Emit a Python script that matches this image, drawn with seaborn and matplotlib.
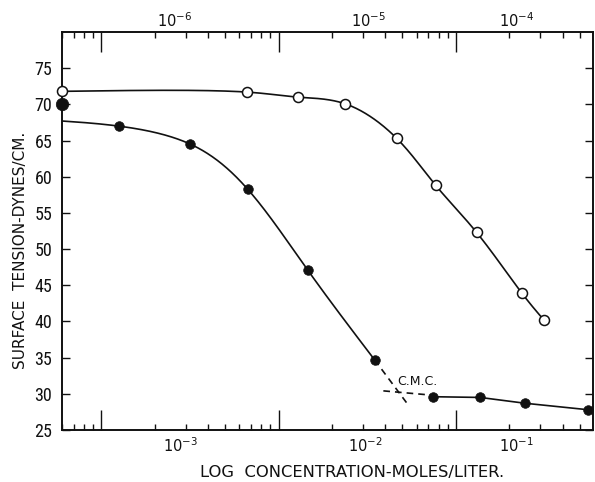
import numpy as np
import matplotlib
matplotlib.use("Agg")
import matplotlib.pyplot as plt
import seaborn as sns
from matplotlib import font_manager
from matplotlib.ticker import LogLocator, NullFormatter
from matplotlib.transforms import blended_transform_factory

# ---- data -------------------------------------------------------------
# lower scale (moles/liter)
bottom_limits = (6.0e-4, 0.594)
bottom_label_pos = [2.8e-3, 3.1e-2, 0.22]
bottom_label_txt = [r"$10^{-3}$", r"$10^{-2}$", r"$10^{-1}$"]

# upper scale (moles/liter)
top_limits = (6.0e-7, 5.94e-4)
top_label_pos = [2.6e-6, 3.2e-5, 2.2e-4]
top_label_txt = [r"$10^{-6}$", r"$10^{-5}$", r"$10^{-4}$"]

# open circles, read against the upper scale
open_conc = [6.0e-7, 6.6e-6, 1.28e-5, 2.36e-5, 4.64e-5, 7.7e-5, 1.31e-4, 2.36e-4, 3.14e-4]
open_tension = [71.8, 71.7, 71.0, 70.1, 65.3, 58.8, 52.3, 43.9, 40.2]

# filled circles, read against the lower scale
filled_conc = [1.25e-3, 3.18e-3, 6.68e-3, 1.46e-2, 3.48e-2, 7.41e-2, 0.137, 0.245, 0.557]
filled_tension = [67.0, 64.5, 58.3, 47.1, 34.7, 29.6, 29.5, 28.7, 27.8]
n_steep = 5                      # points on the falling branch (before the C.M.C.)
solvent_tension = 70.0           # pure solvent, marked on the left edge
filled_curve_start = 67.7        # where the fitted curve leaves the left edge

# extent of the dashed extrapolations meeting at the C.M.C.
steep_dash_end = 0.053
flat_dash_start = 0.039
cmc_label_pos = (0.0605, 31.7)

yticks = [25, 30, 35, 40, 45, 50, 55, 60, 65, 70, 75]
y_limits = (25, 80)

# drawing scale used for curve smoothing: units per decade / per dyne
X_UNIT, Y_UNIT = 177.0, 7.24


# ---- helpers ----------------------------------------------------------
def _natural(t, v, tq):
    n = len(t)
    h = np.diff(t)
    A = np.zeros((n, n))
    r = np.zeros(n)
    A[0, 0] = A[-1, -1] = 1.0
    for i in range(1, n - 1):
        A[i, i - 1] = h[i - 1]
        A[i, i] = 2 * (h[i - 1] + h[i])
        A[i, i + 1] = h[i]
        r[i] = 6 * ((v[i + 1] - v[i]) / h[i] - (v[i] - v[i - 1]) / h[i - 1])
    M = np.linalg.solve(A, r)
    i = np.clip(np.searchsorted(t, tq) - 1, 0, n - 2)
    a = (t[i + 1] - tq) / h[i]
    b = (tq - t[i]) / h[i]
    return a * v[i] + b * v[i + 1] + ((a**3 - a) * M[i] + (b**3 - b) * M[i + 1]) * h[i] ** 2 / 6


def smooth_curve(x, y, n=500):
    """Parametric natural cubic spline (a draftsman's spline) through the
    points, built in log-x drawing units with centripetal parameterisation."""
    px = np.log10(np.asarray(x, float)) * X_UNIT
    py = np.asarray(y, float) * Y_UNIT
    seg = np.hypot(np.diff(px), np.diff(py)) ** 0.5
    t = np.concatenate([[0.0], np.cumsum(seg)])
    tq = np.linspace(0, t[-1], n)
    return 10 ** (_natural(t, px, tq) / X_UNIT), _natural(t, py, tq) / Y_UNIT


def loglin_fit(x, y):
    return np.polyfit(np.log10(x), y, 1)


def pick_font(cands, default="DejaVu Sans"):
    names = {f.name for f in font_manager.fontManager.ttflist}
    for c in cands:
        if c in names:
            return c
    return default


# ---- style ------------------------------------------------------------
sns.set_style("ticks")
plt.rcParams["font.family"] = ["DejaVu Sans"]
plt.rcParams["mathtext.fontset"] = "dejavusans"
plt.rcParams["axes.linewidth"] = 1.2
narrow = pick_font(["Liberation Sans Narrow", "DejaVu Sans Condensed", "Roboto Condensed"])

fig = plt.figure(figsize=(5.95, 4.82), dpi=100)
fig.patch.set_facecolor("white")
ax = fig.add_axes([62 / 595, 1 - 430 / 482, (593 - 62) / 595, (430 - 32) / 482])
ax.set_xscale("log")
ax.set_xlim(*bottom_limits)
ax.set_ylim(*y_limits)

ax_top = ax.twiny()
ax_top.set_xscale("log")
ax_top.set_xlim(*top_limits)

ink = "#111111"
lw = 1.2

# ---- filled-circle series (lower scale) -------------------------------
steep_x = [bottom_limits[0]] + filled_conc[:n_steep]
steep_y = [filled_curve_start] + filled_tension[:n_steep]
cx, cy = smooth_curve(steep_x, steep_y)
sns.lineplot(x=cx, y=cy, ax=ax, color=ink, lw=lw, sort=False, estimator=None)

flat_x = filled_conc[n_steep:]
flat_y = filled_tension[n_steep:]
sns.lineplot(x=flat_x, y=flat_y, ax=ax, color=ink, lw=lw, sort=False, estimator=None)

# dashed extrapolations crossing at the C.M.C.
p_steep = loglin_fit(filled_conc[n_steep - 2:n_steep], filled_tension[n_steep - 2:n_steep])
sx = np.array([filled_conc[n_steep - 1], steep_dash_end])
sns.lineplot(x=sx, y=np.polyval(p_steep, np.log10(sx)), ax=ax, color=ink, lw=lw,
             linestyle=(0, (4, 3)), sort=False, estimator=None)
p_flat = loglin_fit(flat_x, flat_y)
fx = np.array([flat_dash_start, flat_x[0]])
sns.lineplot(x=fx, y=np.polyval(p_flat, np.log10(fx)), ax=ax, color=ink, lw=lw,
             linestyle=(0, (4, 3)), sort=False, estimator=None)

sns.scatterplot(x=filled_conc, y=filled_tension, ax=ax, color=ink, s=48,
                edgecolor=ink, linewidth=0.5, zorder=4)
sns.scatterplot(x=[bottom_limits[0]], y=[solvent_tension], ax=ax, color=ink, s=80,
                marker="o", edgecolor=ink, linewidth=0.5, zorder=5, clip_on=False)

ax.text(*cmc_label_pos, "C.M.C.", ha="center", va="center", fontsize=9, color=ink)

# ---- open-circle series (upper scale) ---------------------------------
ox, oy = smooth_curve(open_conc, open_tension)
sns.lineplot(x=ox, y=oy, ax=ax_top, color=ink, lw=lw, sort=False, estimator=None)
sns.scatterplot(x=open_conc, y=open_tension, ax=ax_top, color="white", s=52,
                edgecolor=ink, linewidth=1.1, zorder=4, clip_on=False)

# ---- ticks --------------------------------------------------------------
for a in (ax, ax_top):
    a.xaxis.set_major_locator(LogLocator(base=10, numticks=12))
    a.xaxis.set_minor_locator(LogLocator(base=10, subs=np.arange(2, 10), numticks=30))
    a.xaxis.set_major_formatter(NullFormatter())
    a.xaxis.set_minor_formatter(NullFormatter())
    a.set_xlabel("")
    a.set_ylabel("")

ax.tick_params(axis="x", which="major", direction="in", length=14.5, width=1.0,
               bottom=True, top=False, color=ink)
ax.tick_params(axis="x", which="minor", direction="in", length=4.5, width=1.0,
               bottom=True, top=False, color=ink)
ax_top.tick_params(axis="x", which="major", direction="in", length=14.5, width=1.0,
                   top=True, bottom=False, color=ink)
ax_top.tick_params(axis="x", which="minor", direction="in", length=4.5, width=1.0,
                   top=True, bottom=False, color=ink)

ax.set_yticks(yticks)
ax.set_yticklabels([str(v) for v in yticks])
ax.tick_params(axis="y", which="major", direction="in", length=5.5, width=1.0,
               left=True, right=True, labelleft=True, labelright=False,
               pad=7, labelsize=13, color=ink, labelcolor=ink)
for lab in ax.get_yticklabels():
    lab.set_family([narrow, "DejaVu Sans"])

for a in (ax, ax_top):
    for sp in a.spines.values():
        sp.set_color(ink)
        sp.set_linewidth(1.2)

# decade labels placed along each scale
tb = blended_transform_factory(ax.transData, ax.transAxes)
for xpos, txt in zip(bottom_label_pos, bottom_label_txt):
    ax.text(xpos, -0.017, txt, transform=tb, ha="center", va="top", fontsize=10.5, color=ink)
tt = blended_transform_factory(ax_top.transData, ax_top.transAxes)
for xpos, txt in zip(top_label_pos, top_label_txt):
    ax_top.text(xpos, 1.005, txt, transform=tt, ha="center", va="bottom", fontsize=10.5, color=ink)

# axis titles
fig.text(352 / 595, 1 - 472 / 482, "LOG  CONCENTRATION-MOLES/LITER.", ha="center",
         va="center", fontsize=11.8, color=ink)
fig.text(21 / 595, 1 - 250 / 482, "SURFACE  TENSION-DYNES/CM.", ha="center",
         va="center", rotation=90, fontsize=11, color=ink)

fig.savefig("out.png", dpi=100, facecolor="white")
